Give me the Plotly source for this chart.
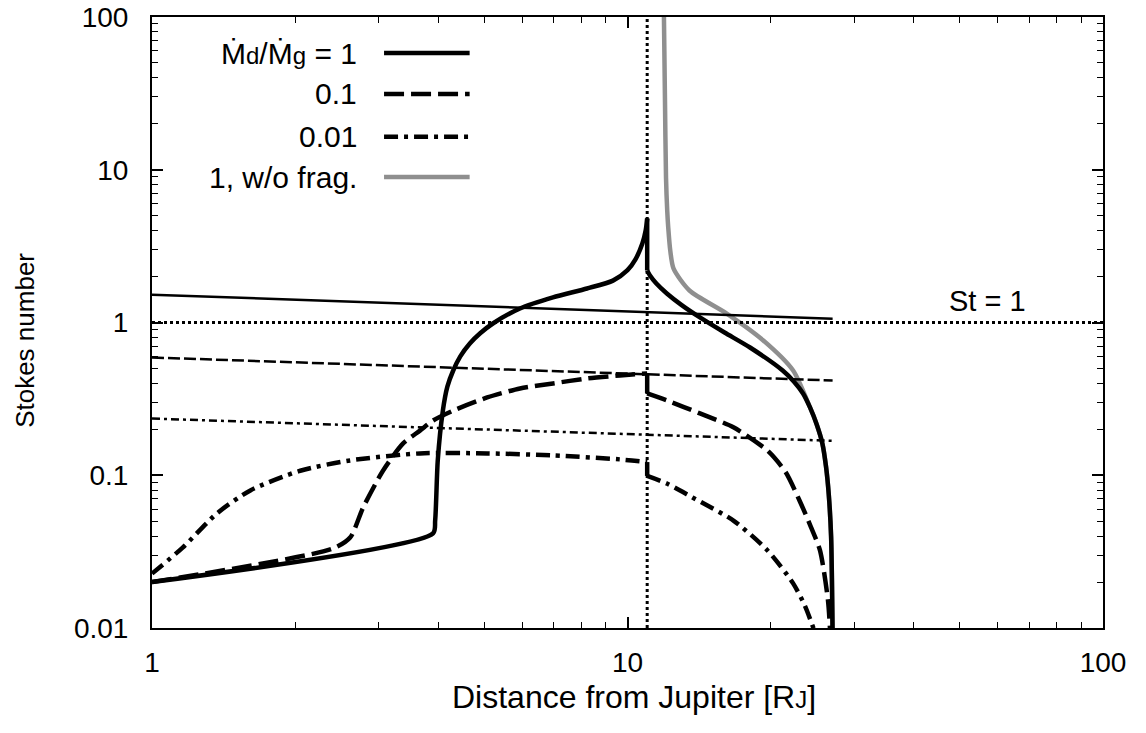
import plotly.graph_objects as go

# ---------------- data ----------------
# Md/Mg = 1 (thick solid)
x_r1 = [1.0, 3.90, 3.94, 3.99, 4.09, 4.18, 4.30, 4.45, 4.66, 4.90, 5.21, 5.94, 6.97, 8.22, 9.32, 10.0, 10.4, 10.75, 10.92,
        11.0, 11.0, 11.15, 11.5, 12.1, 13.0, 14.2, 16.0, 18.1, 21.2, 22.4, 23.4, 24.2, 25.0, 25.7, 26.15, 26.5, 26.8, 27.0]
st_r1 = [0.02, 0.0416, 0.0506, 0.125, 0.265, 0.38, 0.485, 0.60, 0.729, 0.85, 0.985, 1.235, 1.46, 1.67, 1.88, 2.2, 2.6, 3.3, 4.0,
         4.8, 2.19, 2.03, 1.80, 1.55, 1.30, 1.08, 0.86, 0.686, 0.485, 0.41, 0.343, 0.278, 0.215, 0.161, 0.114, 0.075, 0.04, 0.009]

# Md/Mg = 0.1 (thick dashed)
x_r01 = [1.0, 2.40, 2.61, 2.78, 3.06, 3.37, 3.66, 3.90, 4.30, 5.07, 5.94, 6.97, 8.22, 9.64, 11.0,
         11.0, 12.1, 14.2, 16.7, 19.7, 21.5, 23.0, 24.3, 25.4, 26.4, 26.7]
st_r01 = [0.02, 0.0331, 0.0391, 0.0615, 0.107, 0.161, 0.196, 0.228, 0.265, 0.323, 0.370, 0.399, 0.430, 0.450, 0.464,
          0.343, 0.309, 0.254, 0.206, 0.145, 0.105, 0.0684, 0.046, 0.0322, 0.0152, 0.009]

# Md/Mg = 0.01 (thick dash-dot)
x_r001 = [1.0, 1.16, 1.37, 1.61, 2.05, 2.61, 3.66, 5.07, 6.97, 9.64, 11.0,
          11.0, 12.1, 13.7, 16.7, 19.7, 22.3, 23.6, 24.6, 24.9]
st_r001 = [0.0227, 0.0336, 0.0563, 0.0796, 0.107, 0.125, 0.139, 0.139, 0.135, 0.127, 0.122,
           0.099, 0.0883, 0.0715, 0.0505, 0.0322, 0.0196, 0.014, 0.01, 0.009]

# Md/Mg = 1 without fragmentation (gray)
x_nofrag = [11.93, 11.99, 12.05, 12.12, 12.18, 12.3, 12.5, 13.5, 16.2, 19.3, 22.3, 24.2, 25.0, 25.7, 26.15, 26.5, 26.8, 27.0]
st_nofrag = [100, 28.4, 8.9, 5.41, 4.19, 2.96, 2.25, 1.62, 1.14, 0.763, 0.485, 0.278, 0.215, 0.161, 0.114, 0.075, 0.04, 0.009]

# thin lines (fragmentation-limited thresholds)
x_thin = [1.0, 27.0]
st_thin_r1 = [1.52, 1.06]
st_thin_r01 = [0.59, 0.417]
st_thin_r001 = [0.235, 0.168]

# reference lines
st_unity = 1.0
x_ref = 11.0
x_range = [1, 100]
y_range = [0.01, 100]

legend_labels = ["\u1E40<span style='font-size:24px'>d</span>/\u1E40<span style='font-size:24px'>g</span> = 1",
                 "0.1", "0.01", "1, w/o frag."]
x_ticks = [1, 10, 100]
y_ticks = [0.01, 0.1, 1, 10, 100]
y_ticktext = ["0.01", "0.1", "1", "10", "100"]

# ---------------- styles ----------------
FONT = "Liberation Sans, Arial, Helvetica, sans-serif"
THICK = 4.5
THIN = 2.5
GRAY = "#8f8f8f"
DASH_THICK = "20px,7px"
DASHDOT_THICK = "14px,6px,4px,6px"
DASH_THIN = "12px,4px"
DASHDOT_THIN = "8px,4px,3px,4px"
DOT = "3px,3px"

fig = go.Figure()


def add_curve(xs, ys, line):
    """Draw a curve smoothly, keeping the vertical jump (repeated x) sharp."""
    cut = None
    for i in range(1, len(xs)):
        if xs[i] == xs[i - 1]:
            cut = i
            break
    if cut is None:
        pieces = [(xs, ys, "spline")]
    else:
        pieces = [(xs[:cut], ys[:cut], "spline"),
                  (xs[cut - 1:cut + 1], ys[cut - 1:cut + 1], "linear"),
                  (xs[cut:], ys[cut:], "spline")]
    for px, py, shp in pieces:
        fig.add_trace(go.Scatter(x=px, y=py, mode="lines",
                                 line=dict(shape=shp, smoothing=0.7, **line), showlegend=False))


add_curve(x_nofrag, st_nofrag, dict(color=GRAY, width=THICK))
fig.add_trace(go.Scatter(x=x_thin, y=st_thin_r1, mode="lines",
                         line=dict(color="black", width=THIN), showlegend=False))
fig.add_trace(go.Scatter(x=x_thin, y=st_thin_r01, mode="lines",
                         line=dict(color="black", width=THIN, dash=DASH_THIN), showlegend=False))
fig.add_trace(go.Scatter(x=x_thin, y=st_thin_r001, mode="lines",
                         line=dict(color="black", width=THIN, dash=DASHDOT_THIN), showlegend=False))
# dotted reference lines
fig.add_trace(go.Scatter(x=x_range, y=[st_unity, st_unity], mode="lines",
                         line=dict(color="black", width=3, dash=DOT), showlegend=False))
fig.add_trace(go.Scatter(x=[x_ref, x_ref], y=y_range, mode="lines",
                         line=dict(color="black", width=3, dash=DOT), showlegend=False))
# thick curves
add_curve(x_r001, st_r001, dict(color="black", width=THICK, dash=DASHDOT_THICK))
add_curve(x_r01, st_r01, dict(color="black", width=THICK, dash=DASH_THICK))
add_curve(x_r1, st_r1, dict(color="black", width=THICK))

# ---------------- custom legend (text left, sample right) ----------------
row_y = [0.941, 0.874, 0.804, 0.738]
row_style = [dict(color="black", width=THICK),
             dict(color="black", width=THICK, dash=DASH_THICK),
             dict(color="black", width=THICK, dash=DASHDOT_THICK),
             dict(color=GRAY, width=THICK)]
for lab, yy, st in zip(legend_labels, row_y, row_style):
    fig.add_annotation(x=0.2177, y=yy, xref="paper", yref="paper", text=lab,
                       showarrow=False, xanchor="right", yanchor="middle",
                       font=dict(family=FONT, size=30, color="black"))
    fig.add_shape(type="line", xref="paper", yref="paper", x0=0.244, x1=0.334, y0=yy, y1=yy, line=st)

# St = 1 label
fig.add_annotation(x=0.879, y=0.535, xref="paper", yref="paper", text="St = 1", showarrow=False,
                   xanchor="center", yanchor="middle", font=dict(family=FONT, size=29, color="black"))

# axis titles
fig.add_annotation(x=0.507, y=-0.113, xref="paper", yref="paper",
                   text="Distance from Jupiter [R<span style='font-size:24px'>J</span>]",
                   showarrow=False, xanchor="center", yanchor="middle",
                   font=dict(family=FONT, size=32, color="black"))
fig.add_annotation(x=-0.1335, y=0.47, xref="paper", yref="paper", text="Stokes number", textangle=-90,
                   showarrow=False, xanchor="center", yanchor="middle",
                   font=dict(family=FONT, size=26, color="black"))

axis_common = dict(type="log", showgrid=False, zeroline=False, showline=True, linecolor="black",
                   linewidth=2, mirror="allticks", ticks="inside", ticklen=11, tickwidth=1.5,
                   tickcolor="black", automargin=False, ticklabeloverflow="allow",
                   tickfont=dict(family=FONT, size=28, color="black"),
                   minor=dict(ticks="inside", ticklen=6, tickwidth=1, tickcolor="black", dtick="D1", showgrid=False))

fig.update_xaxes(range=[0, 2], tickmode="array", tickvals=x_ticks, ticktext=[str(v) for v in x_ticks],
                 ticklabelstandoff=8, **axis_common)
fig.update_yaxes(range=[-2, 2], tickmode="array", tickvals=y_ticks, ticktext=y_ticktext,
                 ticklabelstandoff=16, **axis_common)

fig.update_layout(width=1146, height=733, margin=dict(l=152, r=43, t=17, b=105),
                  paper_bgcolor="white", plot_bgcolor="white", showlegend=False,
                  font=dict(family=FONT, color="black"))

# remove the browser's default 8px page margin so the figure fills the window exactly
fig.write_html("out.html", config={"displayModeBar": False},
               post_script="document.body.style.margin='0';")
